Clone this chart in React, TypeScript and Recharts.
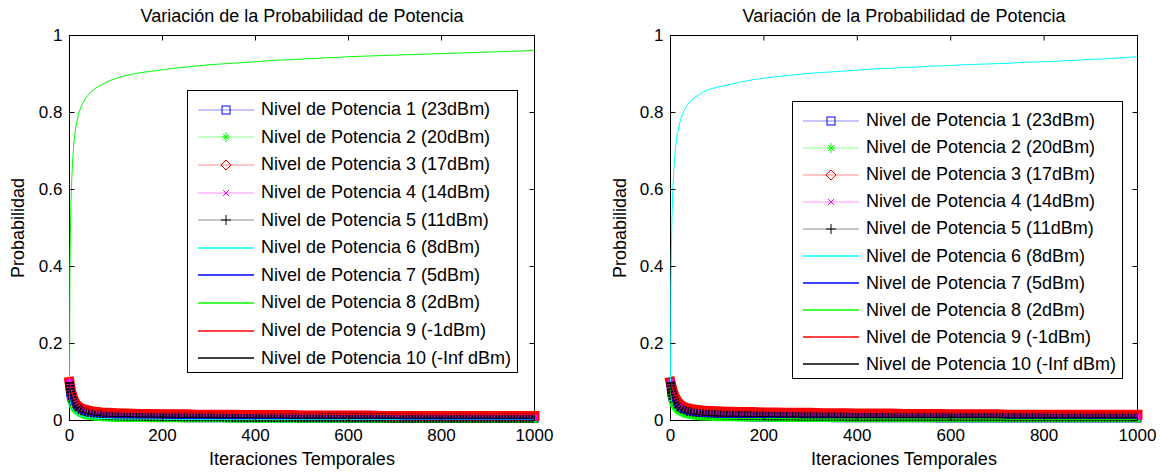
import React from "react";
import { LineChart, Line, XAxis, YAxis, Legend, ReferenceArea } from "recharts";

const FUENTE = "'Liberation Sans', Arial, sans-serif";

const iteraciones = [
  0, 1, 2, 3, 5, 7, 10, 14, 20, 27, 35, 45, 55, 70, 85, 100,
  125, 150, 175, 200, 225, 250, 275, 300, 325, 350, 375, 400,
  425, 450, 475, 500, 525, 550, 575, 600, 625, 650, 675, 700,
  725, 750, 775, 800, 825, 850, 875, 900, 925, 950, 975, 1000,
];

const ticksX = [0, 200, 400, 600, 800, 1000];
const ticksY = [0, 0.2, 0.4, 0.6, 0.8, 1];

const nombres = [
  "Nivel de Potencia 1 (23dBm)",
  "Nivel de Potencia 2 (20dBm)",
  "Nivel de Potencia 3 (17dBm)",
  "Nivel de Potencia 4 (14dBm)",
  "Nivel de Potencia 5 (11dBm)",
  "Nivel de Potencia 6 (8dBm)",
  "Nivel de Potencia 7 (5dBm)",
  "Nivel de Potencia 8 (2dBm)",
  "Nivel de Potencia 9 (-1dBm)",
  "Nivel de Potencia 10 (-Inf dBm)",
];

// ---- left panel ----
const izq1 = [
  0.1, 0.072, 0.062, 0.056, 0.049, 0.043, 0.037, 0.031, 0.025, 0.021, 0.018, 0.015, 0.013, 0.011, 0.010, 0.009,
  0.008, 0.008, 0.007, 0.007, 0.007, 0.006, 0.006, 0.006, 0.006, 0.006, 0.005, 0.005,
  0.005, 0.005, 0.005, 0.005, 0.005, 0.005, 0.005, 0.004, 0.004, 0.004, 0.004, 0.004,
  0.004, 0.004, 0.004, 0.004, 0.004, 0.004, 0.004, 0.004, 0.004, 0.004, 0.004, 0.004,
];
const izq2 = [
  0.1, 0.066, 0.055, 0.048, 0.040, 0.034, 0.028, 0.023, 0.018, 0.014, 0.011, 0.009, 0.007, 0.006, 0.005, 0.004,
  0.004, 0.004, 0.003, 0.003, 0.003, 0.003, 0.003, 0.003, 0.003, 0.002, 0.002, 0.002,
  0.002, 0.002, 0.002, 0.002, 0.002, 0.002, 0.002, 0.002, 0.002, 0.002, 0.002, 0.002,
  0.002, 0.002, 0.002, 0.002, 0.002, 0.002, 0.002, 0.002, 0.002, 0.002, 0.002, 0.002,
];
const izq3 = [
  0.1, 0.092, 0.085, 0.079, 0.070, 0.062, 0.052, 0.044, 0.036, 0.031, 0.028, 0.025, 0.023, 0.021, 0.020, 0.019,
  0.018, 0.017, 0.017, 0.016, 0.016, 0.016, 0.015, 0.015, 0.015, 0.015, 0.014, 0.014,
  0.014, 0.014, 0.014, 0.013, 0.013, 0.013, 0.013, 0.013, 0.013, 0.013, 0.012, 0.012,
  0.012, 0.012, 0.012, 0.012, 0.012, 0.012, 0.012, 0.012, 0.012, 0.012, 0.012, 0.012,
];
const izq4 = [
  0.1, 0.088, 0.080, 0.074, 0.065, 0.057, 0.048, 0.040, 0.032, 0.027, 0.023, 0.020, 0.018, 0.016, 0.015, 0.014,
  0.013, 0.012, 0.012, 0.011, 0.011, 0.011, 0.010, 0.010, 0.010, 0.010, 0.010, 0.009,
  0.009, 0.009, 0.009, 0.009, 0.009, 0.009, 0.009, 0.009, 0.008, 0.008, 0.008, 0.008,
  0.008, 0.008, 0.008, 0.008, 0.008, 0.008, 0.008, 0.008, 0.008, 0.008, 0.008, 0.008,
];
const izq5 = [
  0.1, 0.084, 0.076, 0.070, 0.061, 0.053, 0.045, 0.037, 0.030, 0.025, 0.021, 0.018, 0.016, 0.014, 0.013, 0.012,
  0.011, 0.011, 0.010, 0.010, 0.010, 0.009, 0.009, 0.009, 0.009, 0.008, 0.008, 0.008,
  0.008, 0.008, 0.008, 0.007, 0.007, 0.007, 0.007, 0.007, 0.007, 0.007, 0.007, 0.006,
  0.006, 0.006, 0.006, 0.006, 0.006, 0.006, 0.006, 0.006, 0.006, 0.006, 0.006, 0.006,
];
const izq6 = [
  0.1, 0.062, 0.050, 0.043, 0.035, 0.029, 0.023, 0.018, 0.014, 0.011, 0.009, 0.007, 0.006, 0.005, 0.005, 0.004,
  0.004, 0.004, 0.004, 0.003, 0.003, 0.003, 0.003, 0.003, 0.003, 0.003, 0.003, 0.003,
  0.003, 0.003, 0.003, 0.003, 0.003, 0.003, 0.003, 0.003, 0.003, 0.003, 0.003, 0.003,
  0.003, 0.003, 0.003, 0.003, 0.003, 0.003, 0.003, 0.003, 0.003, 0.003, 0.003, 0.003,
];
const izq7 = [
  0.1, 0.070, 0.060, 0.053, 0.046, 0.040, 0.034, 0.028, 0.022, 0.018, 0.015, 0.013, 0.011, 0.010, 0.009, 0.008,
  0.008, 0.007, 0.007, 0.007, 0.006, 0.006, 0.006, 0.006, 0.006, 0.005, 0.005, 0.005,
  0.005, 0.005, 0.005, 0.005, 0.005, 0.005, 0.005, 0.005, 0.005, 0.005, 0.005, 0.005,
  0.004, 0.004, 0.004, 0.004, 0.004, 0.004, 0.004, 0.004, 0.004, 0.004, 0.004, 0.004,
];
const izq8 = [
  0.1, 0.40, 0.50, 0.56, 0.63, 0.68, 0.73, 0.765, 0.80, 0.82, 0.838, 0.852, 0.862, 0.873, 0.882, 0.889,
  0.897, 0.903, 0.907, 0.911, 0.915, 0.918, 0.921, 0.924, 0.926, 0.928, 0.930, 0.932,
  0.934, 0.936, 0.937, 0.939, 0.940, 0.942, 0.943, 0.945, 0.946, 0.947, 0.948, 0.949,
  0.950, 0.951, 0.952, 0.953, 0.954, 0.955, 0.956, 0.957, 0.958, 0.959, 0.960, 0.962,
];
const izq9 = [
  0.1, 0.094, 0.088, 0.082, 0.074, 0.066, 0.057, 0.049, 0.041, 0.035, 0.031, 0.028, 0.026, 0.024, 0.023, 0.022,
  0.021, 0.021, 0.020, 0.020, 0.020, 0.019, 0.019, 0.019, 0.018, 0.018, 0.018, 0.018,
  0.017, 0.017, 0.017, 0.017, 0.017, 0.016, 0.016, 0.016, 0.016, 0.016, 0.016, 0.015,
  0.015, 0.015, 0.015, 0.015, 0.015, 0.015, 0.015, 0.015, 0.015, 0.015, 0.015, 0.015,
];
const izq10 = [
  0.1, 0.080, 0.070, 0.064, 0.056, 0.049, 0.041, 0.034, 0.027, 0.022, 0.019, 0.016, 0.014, 0.012, 0.011, 0.010,
  0.010, 0.009, 0.009, 0.009, 0.008, 0.008, 0.008, 0.008, 0.007, 0.007, 0.007, 0.007,
  0.007, 0.007, 0.006, 0.006, 0.006, 0.006, 0.006, 0.006, 0.006, 0.006, 0.006, 0.006,
  0.006, 0.006, 0.006, 0.006, 0.006, 0.006, 0.006, 0.006, 0.006, 0.006, 0.006, 0.006,
];

// ---- right panel ----
const der1 = [
  0.1, 0.075, 0.065, 0.058, 0.051, 0.045, 0.039, 0.033, 0.027, 0.023, 0.019, 0.016, 0.014, 0.012, 0.011, 0.010,
  0.009, 0.009, 0.008, 0.008, 0.008, 0.007, 0.007, 0.007, 0.007, 0.006, 0.006, 0.006,
  0.006, 0.006, 0.006, 0.006, 0.006, 0.006, 0.005, 0.005, 0.005, 0.005, 0.005, 0.005,
  0.005, 0.005, 0.005, 0.005, 0.005, 0.005, 0.005, 0.005, 0.005, 0.005, 0.005, 0.005,
];
const der2 = [
  0.1, 0.070, 0.058, 0.050, 0.042, 0.036, 0.030, 0.025, 0.020, 0.016, 0.013, 0.011, 0.009, 0.008, 0.007, 0.006,
  0.006, 0.005, 0.005, 0.005, 0.004, 0.004, 0.004, 0.004, 0.004, 0.004, 0.003, 0.003,
  0.003, 0.003, 0.003, 0.003, 0.003, 0.003, 0.003, 0.003, 0.003, 0.003, 0.003, 0.003,
  0.003, 0.003, 0.003, 0.003, 0.003, 0.003, 0.003, 0.003, 0.003, 0.003, 0.003, 0.003,
];
const der3 = [
  0.1, 0.095, 0.090, 0.085, 0.077, 0.070, 0.061, 0.052, 0.043, 0.037, 0.033, 0.030, 0.028, 0.026, 0.025, 0.024,
  0.023, 0.022, 0.022, 0.021, 0.021, 0.020, 0.020, 0.020, 0.019, 0.019, 0.019, 0.018,
  0.018, 0.018, 0.018, 0.017, 0.017, 0.017, 0.017, 0.016, 0.016, 0.016, 0.016, 0.016,
  0.015, 0.015, 0.015, 0.015, 0.015, 0.015, 0.015, 0.015, 0.015, 0.015, 0.015, 0.015,
];
const der4 = [
  0.1, 0.090, 0.083, 0.077, 0.068, 0.060, 0.051, 0.043, 0.035, 0.030, 0.026, 0.023, 0.021, 0.019, 0.018, 0.017,
  0.016, 0.015, 0.015, 0.014, 0.014, 0.014, 0.013, 0.013, 0.013, 0.012, 0.012, 0.012,
  0.012, 0.011, 0.011, 0.011, 0.011, 0.011, 0.011, 0.011, 0.011, 0.011, 0.011, 0.011,
  0.011, 0.011, 0.011, 0.011, 0.011, 0.011, 0.010, 0.010, 0.010, 0.010, 0.010, 0.010,
];
const der5 = [
  0.1, 0.086, 0.078, 0.072, 0.064, 0.056, 0.048, 0.040, 0.033, 0.028, 0.024, 0.021, 0.019, 0.017, 0.016, 0.015,
  0.014, 0.013, 0.013, 0.012, 0.012, 0.012, 0.011, 0.011, 0.011, 0.011, 0.010, 0.010,
  0.010, 0.010, 0.010, 0.010, 0.010, 0.010, 0.010, 0.010, 0.010, 0.010, 0.010, 0.010,
  0.009, 0.009, 0.009, 0.009, 0.009, 0.009, 0.009, 0.009, 0.009, 0.009, 0.009, 0.009,
];
const der6 = [
  0.1, 0.35, 0.45, 0.52, 0.60, 0.65, 0.70, 0.74, 0.775, 0.80, 0.818, 0.832, 0.842, 0.853, 0.861, 0.866,
  0.872, 0.879, 0.885, 0.889, 0.893, 0.896, 0.899, 0.902, 0.904, 0.906, 0.908, 0.910,
  0.912, 0.914, 0.915, 0.917, 0.918, 0.920, 0.921, 0.922, 0.924, 0.925, 0.926, 0.927,
  0.928, 0.930, 0.931, 0.932, 0.933, 0.935, 0.936, 0.938, 0.939, 0.941, 0.943, 0.945,
];
const der7 = [
  0.1, 0.073, 0.062, 0.055, 0.048, 0.042, 0.036, 0.030, 0.024, 0.020, 0.017, 0.014, 0.012, 0.011, 0.010, 0.009,
  0.008, 0.008, 0.008, 0.008, 0.008, 0.008, 0.007, 0.007, 0.007, 0.007, 0.007, 0.007,
  0.007, 0.007, 0.007, 0.007, 0.007, 0.007, 0.007, 0.007, 0.007, 0.007, 0.007, 0.007,
  0.006, 0.006, 0.006, 0.006, 0.006, 0.006, 0.006, 0.006, 0.006, 0.006, 0.006, 0.006,
];
const der8 = [
  0.1, 0.066, 0.054, 0.047, 0.039, 0.033, 0.027, 0.022, 0.017, 0.014, 0.011, 0.009, 0.008, 0.007, 0.006, 0.005,
  0.005, 0.005, 0.005, 0.005, 0.005, 0.005, 0.004, 0.004, 0.004, 0.004, 0.004, 0.004,
  0.004, 0.004, 0.004, 0.004, 0.004, 0.004, 0.004, 0.004, 0.004, 0.004, 0.004, 0.004,
  0.003, 0.003, 0.003, 0.003, 0.003, 0.003, 0.003, 0.003, 0.003, 0.003, 0.003, 0.003,
];
const der9 = [
  0.1, 0.097, 0.093, 0.088, 0.081, 0.074, 0.066, 0.057, 0.048, 0.042, 0.037, 0.034, 0.032, 0.030, 0.029, 0.028,
  0.027, 0.026, 0.025, 0.025, 0.024, 0.024, 0.023, 0.023, 0.022, 0.022, 0.022, 0.021,
  0.021, 0.021, 0.020, 0.020, 0.020, 0.020, 0.020, 0.020, 0.020, 0.020, 0.020, 0.020,
  0.020, 0.020, 0.020, 0.020, 0.019, 0.019, 0.019, 0.019, 0.019, 0.019, 0.019, 0.019,
];
const der10 = [
  0.1, 0.082, 0.072, 0.066, 0.058, 0.051, 0.043, 0.036, 0.029, 0.024, 0.021, 0.018, 0.016, 0.014, 0.013, 0.012,
  0.011, 0.011, 0.010, 0.010, 0.010, 0.009, 0.009, 0.009, 0.009, 0.009, 0.008, 0.008,
  0.008, 0.008, 0.008, 0.008, 0.008, 0.008, 0.008, 0.008, 0.008, 0.008, 0.008, 0.008,
  0.007, 0.007, 0.007, 0.007, 0.007, 0.007, 0.007, 0.007, 0.007, 0.007, 0.007, 0.007,
];

// MATLAB line specs: b-s, g-*, r-d, m-x, k-+, c, b, g, r, k.
// The first five put a marker on every one of the 1000 iterations, so in the
// plot they merge into a solid band as tall as the marker -> drawn as a thick stroke.
const estilos: any[] = [
  { color: "#0000ff", marker: "square", band: 8 },
  { color: "#00ff00", marker: "star", band: 6 },
  { color: "#ff0000", marker: "diamond", band: 10 },
  { color: "#ff00ff", marker: "x", band: 6 },
  { color: "#000000", marker: "plus", band: 9, dash: "2 1" },
  { color: "#00ffff" },
  { color: "#0000ff" },
  { color: "#00ff00" },
  { color: "#ff0000" },
  { color: "#000000" },
];

function Marcador({ kind, color, cx, cy }: any) {
  const s = { stroke: color, strokeWidth: 1, fill: "none" };
  switch (kind) {
    case "square":
      return <rect x={cx - 4} y={cy - 4} width={8} height={8} {...s} />;
    case "diamond":
      return <polygon points={`${cx},${cy - 5} ${cx + 5},${cy} ${cx},${cy + 5} ${cx - 5},${cy}`} {...s} />;
    case "x":
      return (
        <g {...s}>
          <line x1={cx - 3} y1={cy - 3} x2={cx + 3} y2={cy + 3} />
          <line x1={cx - 3} y1={cy + 3} x2={cx + 3} y2={cy - 3} />
        </g>
      );
    case "plus":
      return (
        <g {...s}>
          <line x1={cx - 5} y1={cy} x2={cx + 5} y2={cy} />
          <line x1={cx} y1={cy - 5} x2={cx} y2={cy + 5} />
        </g>
      );
    case "star":
      return (
        <g {...s}>
          <line x1={cx - 4} y1={cy} x2={cx + 4} y2={cy} />
          <line x1={cx} y1={cy - 5} x2={cx} y2={cy + 5} />
          <line x1={cx - 3} y1={cy - 3} x2={cx + 3} y2={cy + 3} />
          <line x1={cx - 3} y1={cy + 3} x2={cx + 3} y2={cy - 3} />
        </g>
      );
    default:
      return null;
  }
}

function Leyenda({ rowH }: { rowH: number }) {
  return (
    <div
      style={{
        border: "1px solid #000",
        background: "#fff",
        boxSizing: "border-box",
        padding: "5px 0 0 10px",
        fontFamily: FUENTE,
        fontSize: 18,
        color: "#000",
      }}
    >
      {nombres.map((n, i) => (
        <div key={n} style={{ display: "flex", alignItems: "center", height: rowH }}>
          <svg width={56} height={20} style={{ marginRight: 7, flex: "none" }}>
            <line
              x1={0}
              y1={10}
              x2={56}
              y2={10}
              stroke={estilos[i].color}
              strokeWidth={estilos[i].marker ? 1 : 1.5}
              strokeOpacity={estilos[i].marker ? 0.45 : 1}
            />
            {estilos[i].marker && <Marcador kind={estilos[i].marker} color={estilos[i].color} cx={28} cy={10} />}
          </svg>
          <span style={{ whiteSpace: "nowrap" }}>{n}</span>
        </div>
      ))}
    </div>
  );
}

function Panel({ left, width, plotLeft, plotRight, series, legendLeft, legendTop, rowH, yLabelOffset }: any) {
  const top = 35.5;
  const bottom = 420.5;
  const height = 472;
  const yAxisW = 60;
  const xAxisH = 30;

  const data = iteraciones.map((x, i) => {
    const row: any = { x };
    series.forEach((s: number[], k: number) => (row[`s${k + 1}`] = s[i]));
    return row;
  });

  const TickX = (p: any) => {
    const { x, y, payload } = p;
    return (
      <g>
        <line x1={x} y1={y} x2={x} y2={y - 5} stroke="#000" />
        <line x1={x} y1={top} x2={x} y2={top + 5} stroke="#000" />
        <text x={x} y={y + 14.5} textAnchor="middle" dominantBaseline="central" fontSize={17} fontFamily={FUENTE} fill="#000">
          {payload.value}
        </text>
      </g>
    );
  };

  const TickY = (p: any) => {
    const { x, y, payload } = p;
    return (
      <g>
        <line x1={x} y1={y} x2={x + 5} y2={y} stroke="#000" />
        <line x1={plotRight} y1={y} x2={plotRight - 5} y2={y} stroke="#000" />
        <text x={x - 7} y={y} textAnchor="end" dominantBaseline="central" fontSize={17} fontFamily={FUENTE} fill="#000">
          {payload.value}
        </text>
      </g>
    );
  };

  return (
    <div style={{ position: "absolute", left, top: 0, width, height }}>
      <div
        style={{
          position: "absolute",
          left: plotLeft,
          width: plotRight - plotLeft,
          top: 6,
          lineHeight: "21px",
          textAlign: "center",
          fontFamily: FUENTE,
          fontSize: 18,
          color: "#000",
          whiteSpace: "nowrap",
        }}
      >
        Variación de la Probabilidad de Potencia
      </div>
      <LineChart
        width={width}
        height={height}
        data={data}
        margin={{ top, right: width - plotRight, left: plotLeft - yAxisW, bottom: height - bottom - xAxisH }}
      >
        <XAxis
          dataKey="x"
          type="number"
          domain={[0, 1000]}
          ticks={ticksX}
          height={xAxisH}
          axisLine={false}
          tickLine={false}
          tickSize={0}
          tickMargin={0}
          tick={TickX}
          label={{ value: "Iteraciones Temporales", position: "bottom", offset: 2, fill: "#000", fontSize: 18, fontFamily: FUENTE }}
        />
        <YAxis
          type="number"
          domain={[0, 1]}
          ticks={ticksY}
          width={yAxisW}
          axisLine={false}
          tickLine={false}
          tickSize={0}
          tickMargin={0}
          tick={TickY}
          label={{
            value: "Probabilidad",
            angle: -90,
            position: "insideLeft",
            offset: yLabelOffset,
            fill: "#000",
            fontSize: 18,
            fontFamily: FUENTE,
            style: { textAnchor: "middle" },
          }}
        />
        <ReferenceArea x1={0} x2={1000} y1={0} y2={1} fill="none" stroke="#000" strokeWidth={1} fillOpacity={0} />
        {series.map((_: number[], k: number) => {
          const st = estilos[k];
          return (
            <Line
              key={k}
              type="linear"
              dataKey={`s${k + 1}`}
              name={nombres[k]}
              stroke={st.color}
              strokeWidth={st.band ?? 1}
              strokeDasharray={st.dash}
              strokeLinecap={st.band && !st.dash ? "square" : "butt"}
              strokeLinejoin="round"
              isAnimationActive={false}
              activeDot={false}
              dot={false}
            />
          );
        })}
        <Legend
          layout="vertical"
          align="center"
          verticalAlign="middle"
          content={() => <Leyenda rowH={rowH} />}
          wrapperStyle={{ position: "absolute", left: legendLeft, top: legendTop, width: 331 }}
        />
      </LineChart>
    </div>
  );
}

export default function App() {
  return (
    <div style={{ position: "absolute", left: 0, top: 0, width: 1161, height: 472, background: "#fff" }}>
      <Panel
        left={0}
        width={580}
        plotLeft={69.5}
        plotRight={534.5}
        series={[izq1, izq2, izq3, izq4, izq5, izq6, izq7, izq8, izq9, izq10]}
        legendLeft={187}
        legendTop={90}
        rowH={27.6}
        yLabelOffset={8}
      />
      <Panel
        left={580}
        width={581}
        plotLeft={90.5}
        plotRight={557.5}
        series={[der1, der2, der3, der4, der5, der6, der7, der8, der9, der10]}
        legendLeft={212}
        legendTop={101}
        rowH={27.1}
        yLabelOffset={9}
      />
    </div>
  );
}
